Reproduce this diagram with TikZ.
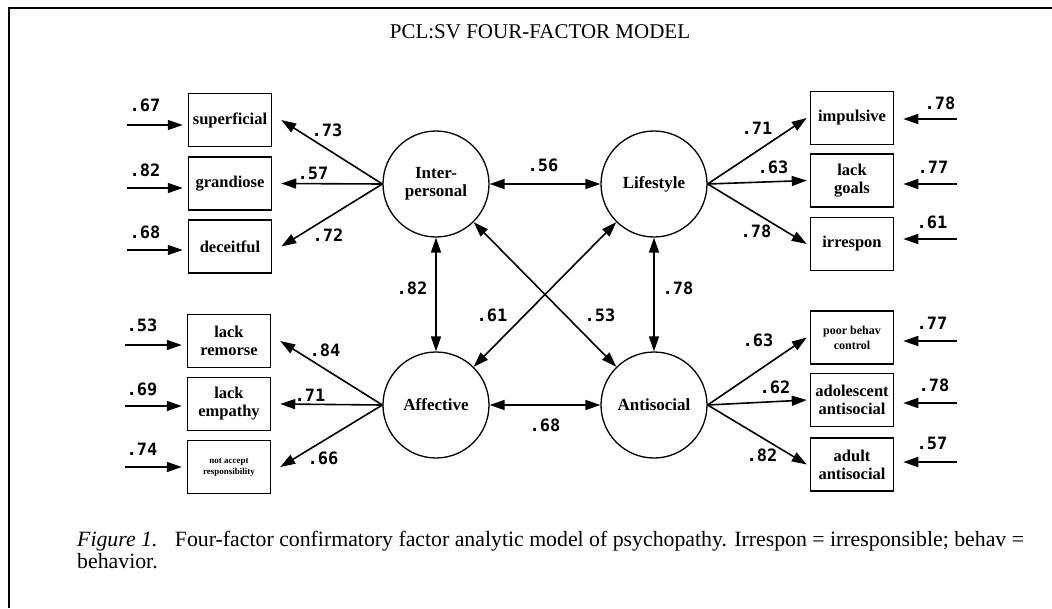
\documentclass[tikz,border=0pt]{standalone}
\usepackage{fontspec}
\setmainfont{Liberation Serif}
\newfontfamily\numfont{DejaVu Sans Mono}
\usetikzlibrary{arrows.meta}
\tikzset{
 lat/.style={circle, draw, line width=1.3pt, minimum size=106pt, inner sep=0pt, align=center,
   font=\fontsize{17}{18}\selectfont\bfseries},
 obs/.style={draw, line width=1.5pt, minimum width=83pt, minimum height=53pt, inner sep=1pt, align=center,
   font=\fontsize{16.5}{18}\selectfont\bfseries},
 arr/.style={line width=1.6pt, -{Triangle[length=15pt,width=10pt]}},
 dar/.style={line width=1.6pt, {Triangle[length=15pt,width=10pt]}-{Triangle[length=15pt,width=10pt]}},
 num/.style={font=\numfont\fontsize{17}{17}\selectfont\bfseries, inner sep=0pt},
 frame/.style={line width=1.8pt},
 captext/.style={anchor=base west, inner sep=0pt, font=\fontsize{21.8}{22}\selectfont},
}
\begin{document}
\begin{tikzpicture}[x=1pt,y=-1pt]
\useasboundingbox (0,0) rectangle (1052,608);
% frame
\coordinate (f0) at (9,8);
\coordinate (f1) at (1052,8);
\coordinate (f2) at (9,608);
\draw[frame] (f1) -- (f0) -- (f2);
% title
\node[font=\fontsize{21}{24}\selectfont] (title) at (540,32) {PCL:SV FOUR-FACTOR MODEL};
% latent factors
\node[lat] (ip) at (436,184) {Inter-\\personal};
\node[lat] (ls) at (654,184) {Lifestyle};
\node[lat] (af) at (436,405) {Affective};
\node[lat] (an) at (654,405) {Antisocial};
% left boxes
\node[obs] (sup) at (230,120) {superficial};
\node[obs] (gra) at (230,183.5) {grandiose};
\node[obs] (dec) at (230,246.5) {deceitful};
\node[obs] (rem) at (229,341) {lack\\remorse};
\node[obs] (emp) at (229,404) {lack\\empathy};
\node[obs, font=\fontsize{9}{11}\selectfont\bfseries] (acc) at (229,467) {not accept\\responsibility};
% right boxes
\node[obs] (imp) at (852,118) {impulsive};
\node[obs] (goa) at (852,180.5) {lack\\goals};
\node[obs] (irr) at (852,244) {irrespon};
\node[obs, font=\fontsize{12}{15}\selectfont\bfseries] (pbc) at (852,337.5) {poor behav\\control};
\node[obs] (ado) at (852,400) {adolescent\\antisocial};
\node[obs] (adu) at (852,464.5) {adult\\antisocial};
% loadings
\draw[arr] (ip.west) -- ([xshift=9pt]sup.east);
\draw[arr] (ip.west) -- ([xshift=9pt]gra.east);
\draw[arr] (ip.west) -- ([xshift=9pt]dec.east);
\draw[arr] (af.west) -- ([xshift=9pt]rem.east);
\draw[arr] (af.west) -- ([xshift=9pt]emp.east);
\draw[arr] (af.west) -- ([xshift=9pt]acc.east);
\draw[arr] (ls.east) -- ([xshift=-3pt]imp.west);
\draw[arr] (ls.east) -- ([xshift=-3pt]goa.west);
\draw[arr] (ls.east) -- ([xshift=-3pt]irr.west);
\draw[arr] (an.east) -- ([xshift=-3pt]pbc.west);
\draw[arr] (an.east) -- ([xshift=-3pt]ado.west);
\draw[arr] (an.east) -- ([xshift=-3pt]adu.west);
\node[num] (l1) at (327,130) {.73};
\node[num] (l2) at (313,173) {.57};
\node[num] (l3) at (328,235) {.72};
\node[num] (l4) at (325,350) {.84};
\node[num] (l5) at (310,395) {.71};
\node[num] (l6) at (323,458) {.66};
\node[num] (l7) at (757,128) {.71};
\node[num] (l8) at (773,167) {.63};
\node[num] (l9) at (756,231) {.78};
\node[num] (l10) at (758,340) {.63};
\node[num] (l11) at (775,387) {.62};
\node[num] (l12) at (762,455) {.82};
% correlations
\draw[dar] (ip) -- (ls);
\draw[dar] (af) -- (an);
\draw[dar] (ip) -- (af);
\draw[dar] (ls) -- (an);
\draw[dar] (ip) -- (an);
\draw[dar] (ls) -- (af);
\node[num] (c1) at (543,165) {.56};
\node[num] (c2) at (412,288) {.82};
\node[num] (c3) at (678,288) {.78};
\node[num] (c4) at (492,315) {.61};
\node[num] (c5) at (600,315) {.53};
\node[num] (c6) at (545,425) {.68};
% error terms left
\coordinate (e1) at (127,125);
\coordinate (e2) at (127,188);
\coordinate (e3) at (127,250);
\coordinate (e4) at (125,345);
\coordinate (e5) at (125,406);
\coordinate (e6) at (125,467);
\draw[arr, shorten >=5pt] (e1) -- (e1 -| sup.west);
\draw[arr, shorten >=5pt] (e2) -- (e2 -| gra.west);
\draw[arr, shorten >=5pt] (e3) -- (e3 -| dec.west);
\draw[arr, shorten >=5pt] (e4) -- (e4 -| rem.west);
\draw[arr, shorten >=5pt] (e5) -- (e5 -| emp.west);
\draw[arr, shorten >=5pt] (e6) -- (e6 -| acc.west);
\node[num] (n1) at (145,105) {.67};
\node[num] (n2) at (145,170) {.82};
\node[num] (n3) at (145,232) {.68};
\node[num] (n4) at (142,325) {.53};
\node[num] (n5) at (142,389) {.69};
\node[num] (n6) at (142,449) {.74};
% error terms right
\coordinate (r1) at (957,119);
\coordinate (r2) at (957,184);
\coordinate (r3) at (957,239);
\coordinate (r4) at (957,341);
\coordinate (r5) at (957,403);
\coordinate (r6) at (957,462);
\draw[arr, shorten >=9pt] (r1) -- (r1 -| imp.east);
\draw[arr, shorten >=9pt] (r2) -- (r2 -| goa.east);
\draw[arr, shorten >=9pt] (r3) -- (r3 -| irr.east);
\draw[arr, shorten >=9pt] (r4) -- (r4 -| pbc.east);
\draw[arr, shorten >=9pt] (r5) -- (r5 -| ado.east);
\draw[arr, shorten >=9pt] (r6) -- (r6 -| adu.east);
\node[num] (m1) at (940,103) {.78};
\node[num] (m2) at (933,167) {.77};
\node[num] (m3) at (932,222) {.61};
\node[num] (m4) at (932,323) {.77};
\node[num] (m5) at (934,385) {.78};
\node[num] (m6) at (932,443) {.57};
% caption
\node[captext] (cap1) at (77,546)
  {\textit{Figure 1.}\hspace{0.8em}Four-factor confirmatory factor analytic model of psychopathy. Irrespon = irresponsible; behav =};
\node[captext] (cap2) at (77,568) {behavior.};
\end{tikzpicture}
\end{document}
